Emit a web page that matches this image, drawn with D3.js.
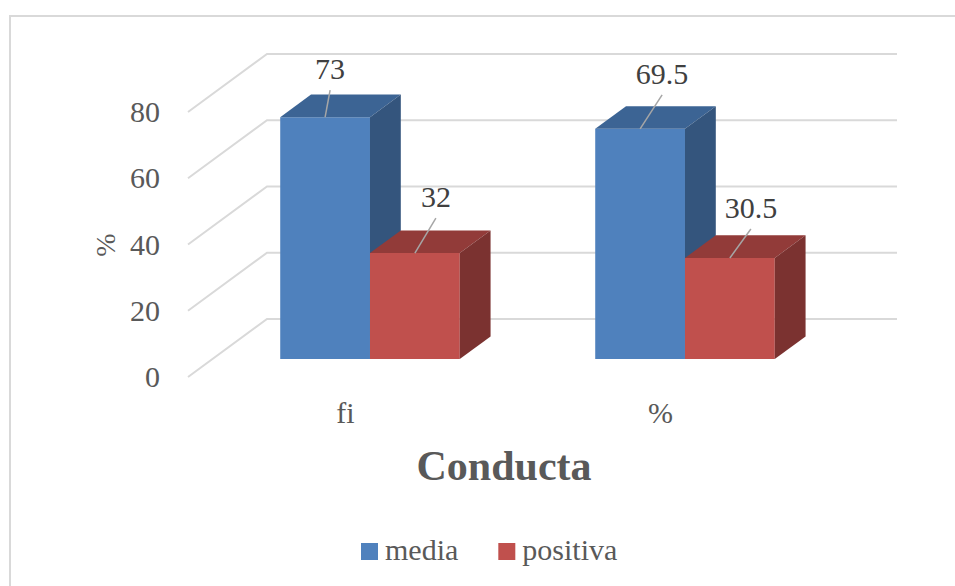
<!DOCTYPE html>
<html>
<head>
<meta charset="utf-8">
<script src="https://cdn.jsdelivr.net/npm/d3@7"></script>
<style>
	body { margin: 0; background: #fff; }
</style>
</head>
<body>
<div id="chart"></div>
<script>
// data
var categories = ['fi', '%'];
var seriesNames = ['media', 'positiva'];
var media = [73, 69.5];
var positiva = [32, 30.5];
var yTicks = [0, 20, 40, 60, 80];

// colours per series: front, top, side
var colors = {
	media:    ['#4f81bd', '#3c6494', '#34557d'],
	positiva: ['#c0504d', '#923b39', '#7b3230'],
};

var FONT = "'Liberation Serif', 'Times New Roman', serif";

var W = 955, H = 586;
// 3d look: full depth of the floor goes right/up by DX/DY
var DX = 79, DY = 58;
var barFront = 0.31, barBack = 0.70;

var svg = d3.select('#chart').append('svg')
	.attr('width', W).attr('height', H)
	.style('font-family', FONT);

// chart border (cut off on the right and bottom)
svg.append('path')
	.attr('d', 'M10,600V16H960')
	.attr('fill', 'none')
	.attr('stroke', '#d9d9d9')
	.attr('stroke-width', 2);

var x = d3.scaleBand()
	.domain(categories)
	.range([188, 818])
	.paddingInner(0.43)
	.paddingOuter(0.215);
var xs = d3.scaleBand()
	.domain(seriesNames)
	.range([0, x.bandwidth()]);
var y = d3.scaleLinear()
	.domain([0, 80])
	.range([377, 377 - 80 * 3.3125]);

// point on the front plane pushed back to depth d (0..1)
function proj(px, v, d){
	return [px + d * DX, y(v) - d * DY];
}

// grid: side wall and back wall lines
var grid = svg.append('g').attr('stroke', '#d9d9d9').attr('stroke-width', 2).attr('fill', 'none');
yTicks.forEach(function(t){
	var a = proj(x.range()[0], t, 0),
		b = proj(x.range()[0], t, 1),
		c = proj(x.range()[1], t, 1);
	grid.append('path').attr('d', 'M' + a + 'L' + b + 'L' + c);
});

// y axis on the front edge of the side wall
var yAxis = svg.append('g')
	.attr('transform', 'translate(188,0)')
	.call(d3.axisLeft(y).tickValues(yTicks).tickSize(0).tickPadding(28));
yAxis.select('.domain').remove();
yAxis.selectAll('text')
	.attr('fill', '#595959')
	.style('font-family', FONT)
	.style('font-size', '30px');

svg.append('text')
	.attr('transform', 'translate(105,245) rotate(-90)')
	.attr('text-anchor', 'middle')
	.attr('dy', '0.35em')
	.attr('fill', '#595959')
	.style('font-size', '28px')
	.text('%');

// x axis labels along the front of the floor
var xAxis = svg.append('g')
	.attr('transform', 'translate(0,' + y(0) + ')')
	.call(d3.axisBottom(x).tickSize(0).tickPadding(25));
xAxis.select('.domain').remove();
xAxis.selectAll('text')
	.attr('fill', '#595959')
	.style('font-family', FONT)
	.style('font-size', '30px');

// bars
var bars = [];
categories.forEach(function(c, i){
	bars.push({cat: c, s: 'media', v: media[i]});
	bars.push({cat: c, s: 'positiva', v: positiva[i]});
});

var poly = function(pts){ return 'M' + pts.join('L') + 'Z'; };

var g = svg.append('g')
	.selectAll('g')
	.data(bars)
	.enter()
	.append('g');

g.each(function(d){
	var sel = d3.select(this);
	var xl = x(d.cat) + xs(d.s), xr = xl + xs.bandwidth();
	var col = colors[d.s];
	// front
	sel.append('path')
		.attr('d', poly([proj(xl, 0, barFront), proj(xr, 0, barFront), proj(xr, d.v, barFront), proj(xl, d.v, barFront)]))
		.attr('fill', col[0]);
	// top
	sel.append('path')
		.attr('d', poly([proj(xl, d.v, barFront), proj(xr, d.v, barFront), proj(xr, d.v, barBack), proj(xl, d.v, barBack)]))
		.attr('fill', col[1]);
	// side
	sel.append('path')
		.attr('d', poly([proj(xr, 0, barFront), proj(xr, 0, barBack), proj(xr, d.v, barBack), proj(xr, d.v, barFront)]))
		.attr('fill', col[2]);
});

// data labels with leader lines; offsets of label from bar top
var labelOffsets = [[5, -27], [21, -35], [22, -34], [21, -29]];
var labels = svg.append('g');
bars.forEach(function(d, i){
	var xl = x(d.cat) + xs(d.s);
	var p = proj(xl + xs.bandwidth() / 2, d.v, barFront);
	var o = labelOffsets[i];
	labels.append('line')
		.attr('x1', p[0]).attr('y1', p[1])
		.attr('x2', p[0] + o[0]).attr('y2', p[1] + o[1])
		.attr('stroke', '#a6a6a6')
		.attr('stroke-width', 1.5);
	labels.append('text')
		.attr('x', p[0] + o[0])
		.attr('y', p[1] + o[1] - 11)
		.attr('text-anchor', 'middle')
		.attr('fill', '#404040')
		.style('font-size', '30px')
		.text(d.v);
});

// title
svg.append('text')
	.attr('x', 504)
	.attr('y', 480)
	.attr('text-anchor', 'middle')
	.attr('fill', '#595959')
	.style('font-size', '42px')
	.style('font-weight', 'bold')
	.text('Conducta');

// legend
var lx = 361;
seriesNames.forEach(function(s){
	svg.append('rect')
		.attr('x', lx).attr('y', 543)
		.attr('width', 17).attr('height', 17)
		.attr('fill', colors[s][0]);
	var t = svg.append('text')
		.attr('x', lx + 24)
		.attr('y', 560)
		.attr('fill', '#595959')
		.style('font-size', '30px')
		.text(s);
	lx = lx + 24 + t.node().getComputedTextLength() + 40;
});
</script>
</body>
</html>
